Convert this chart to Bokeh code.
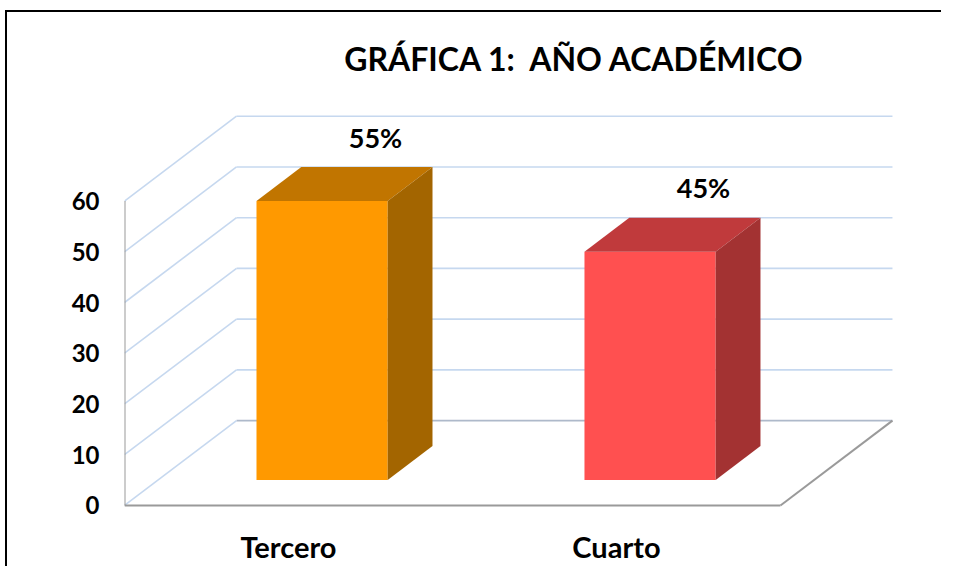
from bokeh.plotting import figure
from bokeh.models import Range1d, FixedTicker, Label, ColumnDataSource
from bokeh.core.properties import value
from bokeh.embed import file_html
from bokeh.resources import INLINE

# ---- data ----
categories = ["Tercero", "Cuarto"]
values = [55, 45]
bar_labels = ["55%", "45%"]
y_ticks = [0, 10, 20, 30, 40, 50, 60]
title_text = "GRÁFICA 1:\u00a0 AÑO ACADÉMICO"

# ---- styles ----
front_colors = ["#FF9900", "#FF5050"]
top_colors = ["#C17500", "#C03A3C"]
side_colors = ["#A36500", "#A33232"]
FONT = "Lato"
GRID = "#C6D8EF"
FLOOR_BACK = "#AEB9CA"
EDGE = "#9A9A9A"

# 3D projection constants (category units / value units)
DX = 0.3415
DY = 16.72
FRONT, BACK = 0.3, 0.7
BAR_W = 0.4
n = len(categories)
y_top = max(y_ticks)

p = figure(width=941, height=566, output_backend="svg", toolbar_location=None,
           x_range=Range1d(0, 2.491), y_range=Range1d(-1, 99.53),
           min_border_left=124, min_border_right=0, min_border_top=0, min_border_bottom=55)
p.styles = {"background": "linear-gradient(#000,#000) 5px 10px / 2px 100% no-repeat, "
                          "linear-gradient(#000,#000) 5px 10px / 100% 2px no-repeat, #fff"}
p.outline_line_color = None
p.xgrid.visible = False
p.ygrid.visible = False
p.background_fill_color = None
p.border_fill_color = None

# ---- walls / gridlines ----
gv = [v for v in y_ticks if v > 0]
p.segment(x0=[DX] * len(gv), y0=[v + DY for v in gv], x1=[n + DX] * len(gv), y1=[v + DY for v in gv],
          line_color=GRID, line_width=1.6)
p.segment(x0=[DX], y0=[DY], x1=[n + DX], y1=[DY], line_color=FLOOR_BACK, line_width=1.6)
p.segment(x0=[0] * len(y_ticks), y0=y_ticks, x1=[DX] * len(y_ticks), y1=[v + DY for v in y_ticks],
          line_color=GRID, line_width=1.6)
p.segment(x0=[0, 0, n], y0=[0, 0, 0], x1=[0, n, n + DX], y1=[y_top, 0, DY],
          line_color=EDGE, line_width=2)

# ---- bars ----
fx, fy, tx, ty, sx, sy = [], [], [], [], [], []
for i, v in enumerate(values):
    x0 = i + 0.5 - BAR_W / 2
    x1 = i + 0.5 + BAR_W / 2
    a, b = FRONT, BACK
    fx.append([x0 + a * DX, x1 + a * DX, x1 + a * DX, x0 + a * DX])
    fy.append([a * DY, a * DY, v + a * DY, v + a * DY])
    tx.append([x0 + a * DX, x1 + a * DX, x1 + b * DX, x0 + b * DX])
    ty.append([v + a * DY, v + a * DY, v + b * DY, v + b * DY])
    sx.append([x1 + a * DX, x1 + b * DX, x1 + b * DX, x1 + a * DX])
    sy.append([a * DY, b * DY, v + b * DY, v + a * DY])

p.patches(xs=fx, ys=fy, fill_color=front_colors, line_color=None)
p.patches(xs=tx, ys=ty, fill_color=top_colors, line_color=None)
p.patches(xs=sx, ys=sy, fill_color=side_colors, line_color=None)

# ---- data labels ----
lab_src = ColumnDataSource(dict(
    x=[i + 0.5 + 0.5 * DX for i in range(n)],
    y=[v + BACK * DY for v in values],
    text=bar_labels))
p.text(x="x", y="y", text="text", source=lab_src, x_offset=31, y_offset=-30,
       text_font=value(FONT), text_font_style="bold", text_font_size="27px",
       text_align="center", text_baseline="alphabetic", text_color="black")

# ---- title ----
p.add_layout(Label(x=1.3735, y=88.1, text=title_text, text_font=FONT, text_font_style="bold",
                   text_font_size="32px", text_align="center", text_baseline="alphabetic",
                   text_color="black"))

# ---- axes ----
p.yaxis.ticker = FixedTicker(ticks=y_ticks)
p.yaxis.axis_line_color = None
p.yaxis.major_tick_line_color = None
p.yaxis.minor_tick_line_color = None
p.yaxis.major_label_standoff = 19
p.yaxis.major_label_text_font = FONT
p.yaxis.major_label_text_font_style = "bold"
p.yaxis.major_label_text_font_size = "24px"
p.yaxis.major_label_text_color = "black"

xt = [i + 0.5 for i in range(n)]
p.xaxis.ticker = FixedTicker(ticks=xt)
p.xaxis.major_label_overrides = {t: c for t, c in zip(xt, categories)}
p.xaxis.axis_line_color = None
p.xaxis.major_tick_line_color = None
p.xaxis.minor_tick_line_color = None
p.xaxis.major_label_standoff = 12
p.xaxis.major_label_text_font = FONT
p.xaxis.major_label_text_font_style = "bold"
p.xaxis.major_label_text_font_size = "29px"
p.xaxis.major_label_text_color = "black"

open("out.html", "w").write(file_html(p, INLINE))
